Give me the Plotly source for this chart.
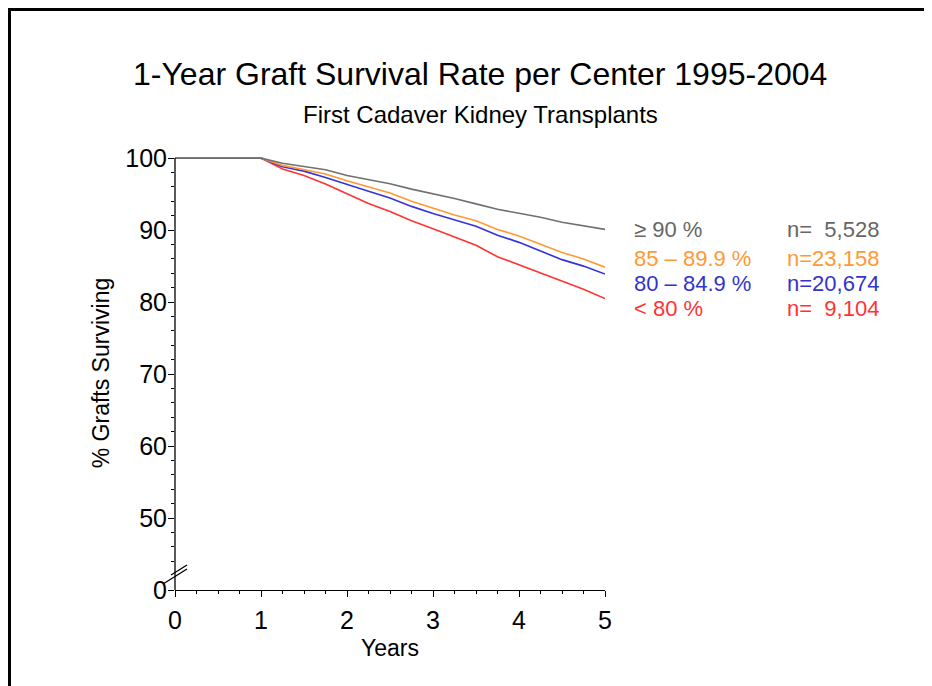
import plotly.graph_objects as go

# years since transplant
years = [0, 1, 1.25, 1.5, 1.75, 2, 2.25, 2.5, 2.75, 3, 3.25, 3.5, 3.75, 4, 4.25, 4.5, 4.75, 5]

# % grafts surviving by center 1-year survival rate
ge90 = [100, 100, 99.3, 98.85, 98.4, 97.6, 97.0, 96.45, 95.7, 95.1, 94.4, 93.65, 92.9, 92.35, 91.8, 91.1, 90.6, 90.1]
r85_90 = [100, 100, 99.0, 98.4, 97.8, 96.85, 96.0, 95.15, 94.0, 93.0, 92.1, 91.3, 90.1, 89.2, 88.1, 86.9, 86.0, 84.85]
r80_85 = [100, 100, 98.8, 98.2, 97.3, 96.3, 95.4, 94.45, 93.3, 92.3, 91.4, 90.55, 89.3, 88.3, 87.1, 85.9, 85.0, 83.9]
lt80 = [100, 100, 98.5, 97.6, 96.4, 95.0, 93.7, 92.6, 91.3, 90.2, 89.0, 87.9, 86.3, 85.2, 84.0, 82.9, 81.8, 80.5]

groups = ["\u2265 90 %", "85 \u2013 89.9 %", "80 \u2013 84.9 %", "< 80 %"]
counts = ["n=\u00a0\u00a05,528", "n=23,158", "n=20,674", "n=\u00a0\u00a09,104"]
colors = ["#666666", "#FF9933", "#3333CC", "#FF3333"]
line_colors = ["#707070", "#FF9933", "#3333DD", "#FF3333"]

ytick_vals = [40, 50, 60, 70, 80, 90, 100]
ytick_text = ["0", "50", "60", "70", "80", "90", "100"]

FONT = "Liberation Sans, Arial, sans-serif"
OFF = 8  # page body margin
W, H = 932 - OFF, 686 - OFF
L, T = 175 - OFF, 156 - OFF
R, B = W - (605 - OFF), H - (590 - OFF)


def px(x):
    # page x pixel -> paper
    return (x - OFF - L) / (W - L - R)


def py(y):
    # page y pixel -> paper
    return (H - B - (y - OFF)) / (H - T - B)


fig = go.Figure()
series = [ge90, r85_90, r80_85, lt80]
for i in [3, 2, 1, 0]:
    fig.add_trace(go.Scatter(x=years, y=series[i], mode="lines", name=groups[i],
                             line=dict(color=line_colors[i], width=1.6)))

fig.update_layout(
    width=W, height=H,
    margin=dict(l=L, r=R, t=T, b=B),
    plot_bgcolor="white", paper_bgcolor="white",
    showlegend=False,
    font=dict(family=FONT, size=23, color="black"),
)

fig.update_xaxes(
    range=[0, 5], tickvals=[0, 1, 2, 3, 4, 5], ticks="outside", ticklen=6, tickwidth=1.3,
    tickcolor="black", showline=True, linecolor="black", linewidth=1.3, showgrid=False,
    zeroline=False, tickfont=dict(size=25), ticklabelstandoff=2,
    minor=dict(tickvals=[i / 4 for i in range(21) if i % 4], ticks="outside", ticklen=3,
               tickcolor="black", tickwidth=1.2),
    title=dict(text="Years", font=dict(size=23), standoff=6),
)
fig.update_yaxes(
    range=[40, 100.3], tickvals=ytick_vals, ticktext=ytick_text, ticks="outside", ticklen=6,
    tickwidth=1.3, tickcolor="black", showline=False, showgrid=False, zeroline=False,
    tickfont=dict(size=25), ticklabelstandoff=-4,
    minor=dict(tickvals=[v for v in range(44, 100, 2) if v % 10], ticks="outside", ticklen=3,
               tickcolor="black", tickwidth=1.2),
    title=dict(text="% Grafts Surviving", font=dict(size=23), standoff=9),
)


def seg(x0, y0, x1, y1, w=1.3):
    return dict(type="line", xref="paper", yref="paper", x0=px(x0), y0=py(y0), x1=px(x1), y1=py(y1),
                line=dict(color="black", width=w))


shapes = [
    seg(175, 158, 175, 590),           # y axis line
    seg(171, 575, 187, 565),           # axis break marks
    seg(163, 584, 187, 569),
    seg(OFF, OFF + 1.5, 940, OFF + 1.5, 3),   # slide frame
    seg(OFF + 1.5, OFF, OFF + 1.5, 700, 3),
]
fig.update_layout(shapes=shapes)

ann = [
    dict(text="1-Year Graft Survival Rate per Center 1995-2004", x=px(480), y=py(74),
         font=dict(size=32)),
    dict(text="First Cadaver Kidney Transplants", x=px(480), y=py(114), font=dict(size=24)),
]
rows_y = [229, 258, 283, 308]
for i in range(4):
    ann.append(dict(text=groups[i], x=px(632), y=py(rows_y[i]), xanchor="left",
                    font=dict(size=22, color=colors[i])))
    ann.append(dict(text=counts[i], x=px(881), y=py(rows_y[i]), xanchor="right",
                    font=dict(size=22, color=colors[i])))
for a in ann:
    a.update(xref="paper", yref="paper", showarrow=False, yanchor="middle")
    a.setdefault("xanchor", "center")
fig.update_layout(annotations=ann)

fig.write_html("out.html")
